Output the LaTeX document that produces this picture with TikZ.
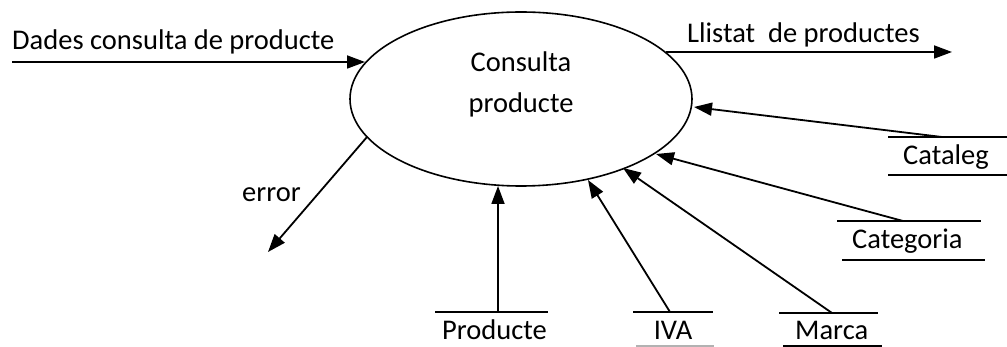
\documentclass[tikz,border=0pt]{standalone}
\usepackage{fontspec}
\setmainfont{Carlito}
\usetikzlibrary{arrows.meta,shapes.geometric}
\tikzset{
  flow/.style={line width=1.8pt,-{Triangle[length=18pt,width=13pt]}},
  store/.style={line width=1.8pt},
  lbl/.style={inner sep=0pt,anchor=base west,font=\fontsize{28.5pt}{34pt}\selectfont},
  process/.style={ellipse,draw,line width=1.6pt,minimum width=342pt,minimum height=174pt,inner sep=0pt}
}
\begin{document}
\begin{tikzpicture}[x=1pt,y=-1pt]
\useasboundingbox (0,0) rectangle (1007,347);

% process bubble
\node[process] (proc) at (521,99) {};
\node[lbl,anchor=base] (proctop) at (521,72) {Consulta};
\node[lbl,anchor=base] (procbot) at (521,113) {producte};

% external flows
\node[lbl] (dades) at (12,50) {Dades consulta de producte};
\coordinate (dadesin) at (12,62);
\coordinate (dadestip) at (365,62);
\draw[flow] (dadesin) -- (dadestip);

\node[lbl] (llistat) at (687,43) {Llistat\ \ de productes};
\coordinate (llistatout) at (666,52);
\coordinate (llistatend) at (952,52);
\draw[flow] (llistatout) -- (llistatend);

\node[lbl] (error) at (242,202) {error};
\coordinate (errout) at (367,137);
\coordinate (errend) at (268,252);
\draw[flow] (errout) -- (errend);

% data stores
\draw[store] (888,137) -- (1007,137);
\draw[store] (888,175) -- (1007,175);
\node[lbl] (cataleg) at (903,165) {Cataleg};

\draw[store] (837,221) -- (981,221);
\draw[store] (842,260) -- (985,260);
\node[lbl] (categoria) at (852,249) {Categoria};

\draw[store] (435,312) -- (548,312);
\node[lbl] (producte) at (442,340) {Producte};

\draw[store] (633,312) -- (713,312);
\draw[store,gray!60] (636,346) -- (714,346);
\node[lbl,anchor=base] (iva) at (673,340) {IVA};

\draw[store] (779,313) -- (878,313);
\draw[store] (783,346) -- (882,346);
\node[lbl] (marca) at (795,340) {Marca};

% store reads
\coordinate (catsrc) at (942,137);
\coordinate (cattip) at (694,107);
\coordinate (categsrc) at (903,221);
\coordinate (categtip) at (656,154);
\coordinate (marcasrc) at (832,313);
\coordinate (marcatip) at (623,168);
\coordinate (ivasrc) at (670,312);
\coordinate (ivatip) at (588,180);
\coordinate (prodsrc) at (498,312);
\coordinate (prodtip) at (498,186);

\draw[flow] (catsrc) -- (cattip);
\draw[flow] (categsrc) -- (categtip);
\draw[flow] (marcasrc) -- (marcatip);
\draw[flow] (ivasrc) -- (ivatip);
\draw[flow] (prodsrc) -- (prodtip);
\end{tikzpicture}
\end{document}
